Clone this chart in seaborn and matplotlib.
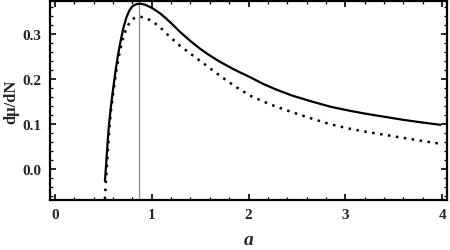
import matplotlib
matplotlib.use("Agg")
import matplotlib.pyplot as plt
import seaborn as sns
import pandas as pd
from matplotlib.ticker import MultipleLocator

a_solid = [0.517, 0.53, 0.545, 0.56, 0.58, 0.60, 0.625, 0.65, 0.68, 0.71, 0.74, 0.77,
           0.80, 0.84, 0.88, 0.93, 1.00, 1.085, 1.15, 1.22, 1.29, 1.40, 1.50, 1.60,
           1.705, 1.85, 2.014, 2.15, 2.29, 2.45, 2.665, 2.85, 3.05, 3.20, 3.40, 3.60,
           3.80, 3.98]
y_solid = [-0.027, 0.010, 0.060, 0.100, 0.140, 0.175, 0.215, 0.250, 0.285, 0.315, 0.337,
           0.352, 0.361, 0.366, 0.367, 0.365, 0.358, 0.346, 0.334, 0.320, 0.305, 0.284,
           0.267, 0.252, 0.238, 0.221, 0.204, 0.189, 0.176, 0.163, 0.149, 0.138, 0.129,
           0.123, 0.116, 0.109, 0.103, 0.098]

a_dot = [0.517, 0.53, 0.545, 0.56, 0.58, 0.60, 0.64, 0.67, 0.70, 0.74, 0.78, 0.82, 0.87,
         0.92, 1.00, 1.085, 1.18, 1.29, 1.40, 1.50, 1.60, 1.705, 1.85, 2.014, 2.15, 2.29,
         2.45, 2.665, 2.85, 3.05, 3.20, 3.40, 3.60, 3.80, 3.98]
y_dot = [-0.067, -0.020, 0.030, 0.080, 0.130, 0.165, 0.225, 0.260, 0.287, 0.313, 0.328,
         0.335, 0.338, 0.337, 0.329, 0.315, 0.295, 0.274, 0.256, 0.240, 0.224, 0.207,
         0.185, 0.163, 0.150, 0.138, 0.126, 0.111, 0.099, 0.089, 0.083, 0.076, 0.069,
         0.062, 0.056]

a_mark = 0.87

sns.set_theme(style="white")
plt.rcParams['font.family'] = ['Liberation Serif', 'DejaVu Serif']

fig = plt.figure(figsize=(4.5, 2.51), dpi=100)
ax = fig.add_axes([50/450, 50/251, 397/450, 199/251])

df_s = pd.DataFrame({"a": a_solid, "y": y_solid})
df_d = pd.DataFrame({"a": a_dot, "y": y_dot})

ax.axvline(a_mark, color="#888888", lw=0.9, zorder=1)
sns.lineplot(data=df_s, x="a", y="y", ax=ax, color="black", lw=1.6, sort=False, zorder=3)
sns.lineplot(data=df_d, x="a", y="y", ax=ax, color="black", lw=1.8, sort=False,
             linestyle=(0, (1, 2.2)), zorder=3)

ax.set_xlim(-0.05, 4.05)
ax.set_ylim(-0.069, 0.373)
ax.xaxis.set_minor_locator(MultipleLocator(0.2))
ax.yaxis.set_minor_locator(MultipleLocator(0.02))
ax.set_xticks([0, 1, 2, 3, 4])
ax.set_xticklabels(["0", "1", "2", "3", "4"])
ax.set_yticks([0.0, 0.1, 0.2, 0.3])
ax.set_yticklabels(["0.0", "0.1", "0.2", "0.3"])

ax.tick_params(which="both", direction="in", top=True, right=True, bottom=True, left=True,
               color="black")
ax.tick_params(which="major", length=4, width=1.2, labelsize=11, pad=6)
ax.tick_params(which="minor", length=2, width=0.9)
for lab in ax.get_xticklabels() + ax.get_yticklabels():
    lab.set_fontweight("bold")

for sp in ax.spines.values():
    sp.set_color("black")
    sp.set_linewidth(1.6)

ax.set_xlabel("a", fontsize=14, fontweight="bold", fontstyle="italic", labelpad=7)
ax.set_ylabel("dμ/dN", fontsize=12, fontweight="bold", labelpad=2)

fig.savefig("out.png", dpi=100)
